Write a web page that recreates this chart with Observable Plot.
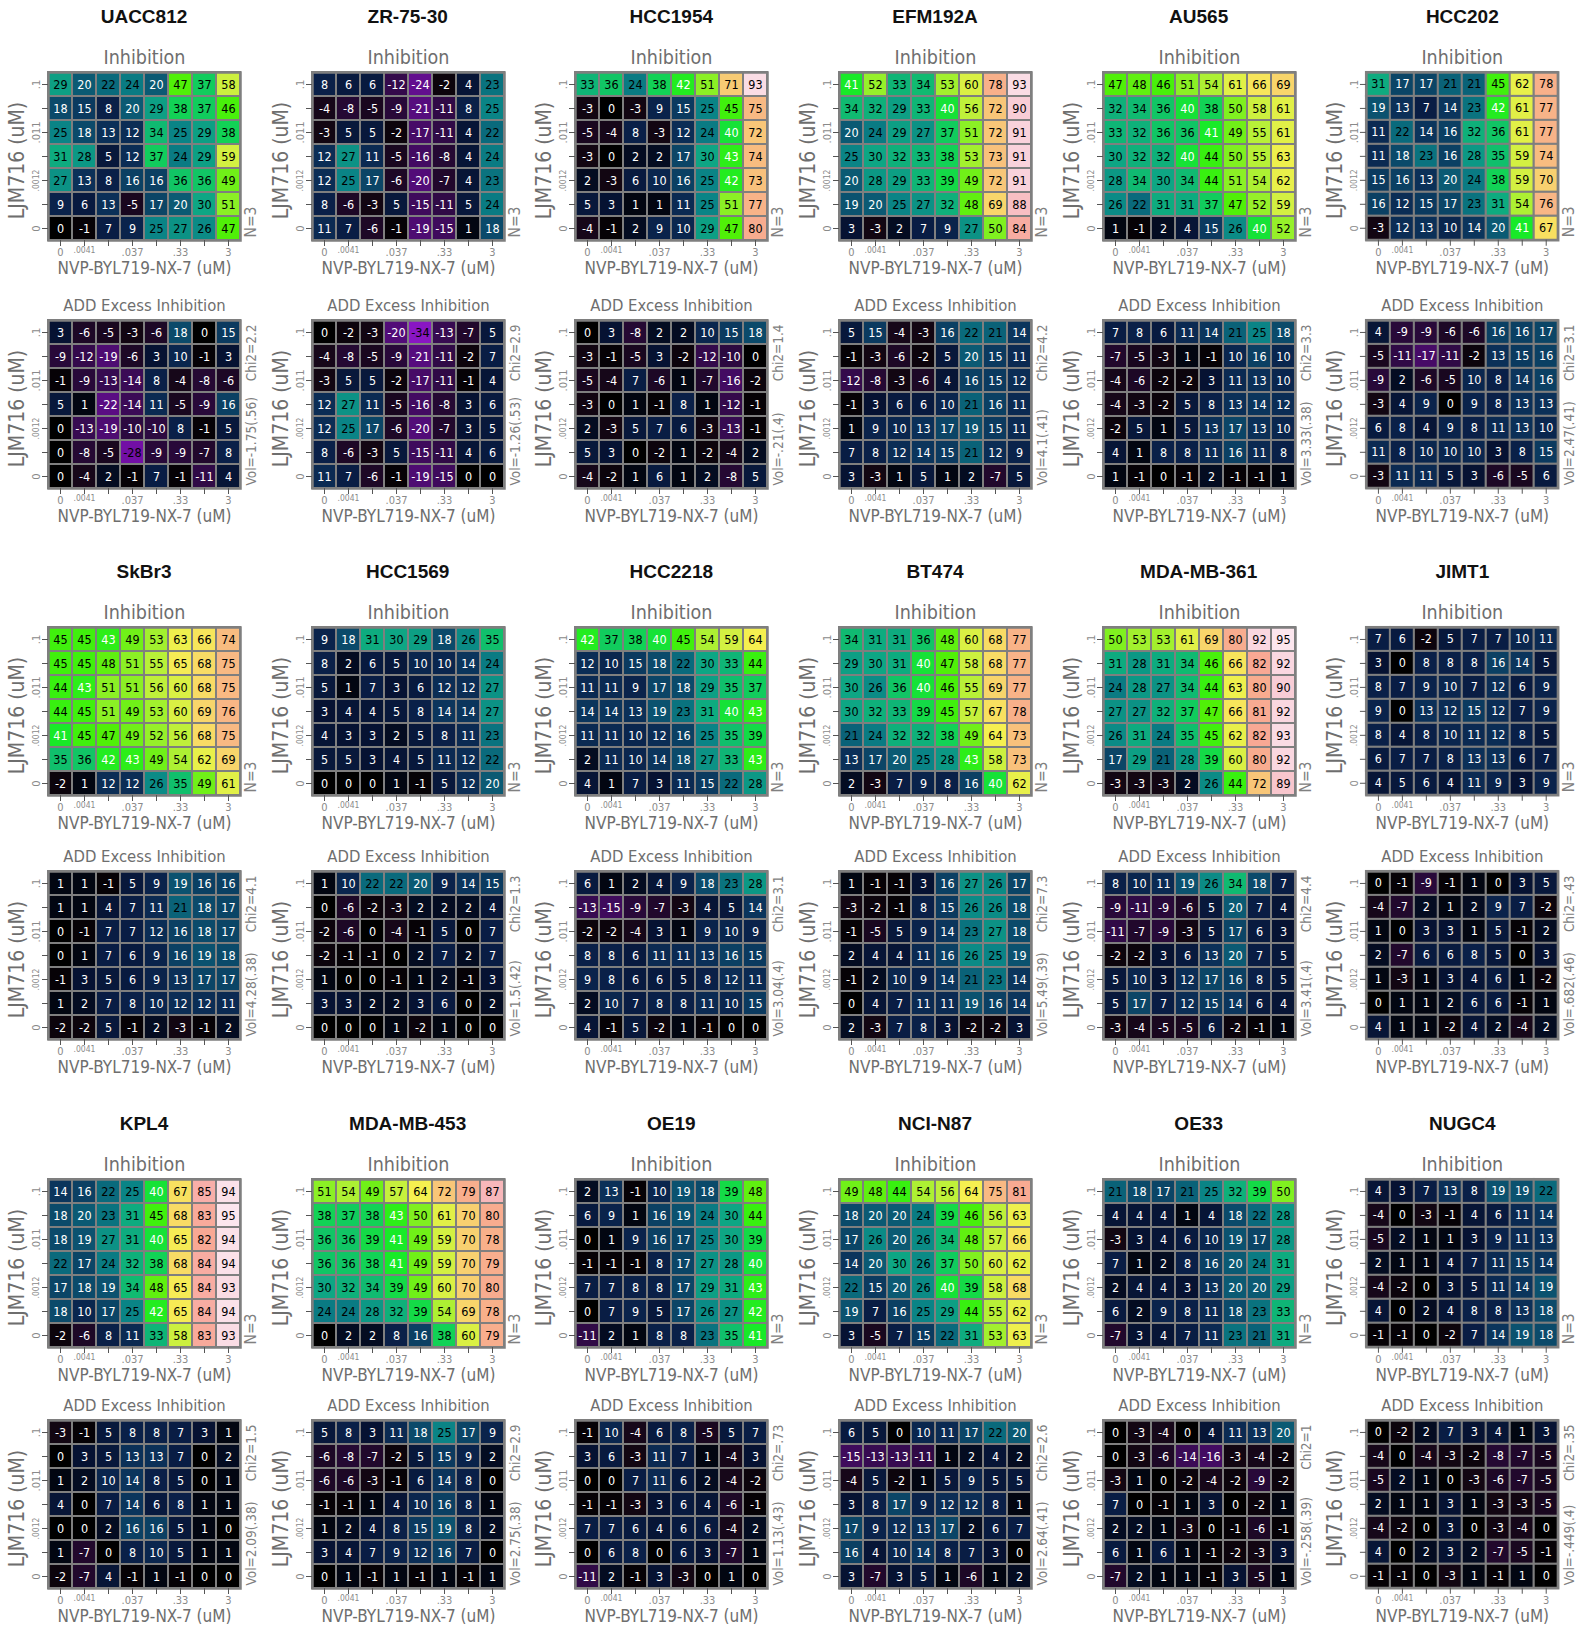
<!DOCTYPE html>
<html><head><meta charset="utf-8">
<script src="https://cdn.jsdelivr.net/npm/d3@7"></script>
<script src="https://cdn.jsdelivr.net/npm/@observablehq/plot@0.6"></script>
<style>
body{margin:0;background:#fff;}
#chart{position:relative;width:1582px;height:1627px;overflow:hidden;}
.name{position:absolute;font:bold 19px "Liberation Sans",Arial,sans-serif;color:#111;text-align:center;width:240px;height:24px;line-height:24px;}
.hm{position:absolute;}
.hm svg{overflow:visible;}
</style></head><body><div id="chart"></div><script>
// ---------- axes / categories ----------
const NVP = ["0",".0041",".012",".037",".11",".33","1","3"];          // columns, left -> right
const LJM = [".1",".033",".011",".0037",".0012",".00041","0"];        // rows, top -> bottom
const xTickLabels = ["0",".0041","",".037","",".33","","3"];
const yTickLabels = [".1","",".011","",".0012","","0"];
const cellLines = ["UACC812","ZR-75-30","HCC1954","EFM192A","AU565","HCC202",
  "SkBr3","HCC1569","HCC2218","BT474","MDA-MB-361","JIMT1",
  "KPL4","MDA-MB-453","OE19","NCI-N87","OE33","NUGC4"];
const nLabels = ["N=3","N=3","N=3","N=3","N=3","N=3","N=3","N=3","N=3","N=3","N=3","N=3","N=3","N=3","N=3","N=3","N=3","N=3"];
const chi2 = ["2.2","2.9","1.4","4.2","3.3","3.1","4.1","1.3","3.1","7.3","4.4",".43","1.5","2.9",".73","2.6","1",".35"];
const vol = ["-1.75(.56)","-1.26(.53)","-.21(.4)","4.1(.41)","3.33(.38)","2.47(.41)","4.28(.38)","1.5(.42)","3.04(.4)","5.49(.39)","3.41(.4)",".682(.46)","2.09(.38)","2.75(.38)","1.13(.43)","2.64(.41)","-.258(.39)","-.449(.4)"];

// ---------- values (rows top -> bottom, columns left -> right) ----------
const UACC812_inh = [[29,20,22,24,20,47,37,58],[18,15,8,20,29,38,37,46],[25,18,13,12,34,25,29,38],[31,28,5,12,37,24,29,59],[27,13,8,16,16,36,36,49],[9,6,13,-5,17,20,30,51],[0,-1,7,9,25,27,26,47]];
const UACC812_add = [[3,-6,-5,-3,-6,18,0,15],[-9,-12,-19,-6,3,10,-1,3],[-1,-9,-13,-14,8,-4,-8,-6],[5,1,-22,-14,11,-5,-9,16],[0,-13,-19,-10,-10,8,-1,5],[0,-8,-5,-28,-9,-9,-7,8],[0,-4,2,-1,7,-1,-11,4]];
const ZR7530_inh = [[8,6,6,-12,-24,-2,4,23],[-4,-8,-5,-9,-21,-11,8,25],[-3,5,5,-2,-17,-11,4,22],[12,27,11,-5,-16,-8,4,24],[12,25,17,-6,-20,-7,4,23],[8,-6,-3,5,-15,-11,5,24],[11,7,-6,-1,-19,-15,1,18]];
const ZR7530_add = [[0,-2,-3,-20,-34,-13,-7,5],[-4,-8,-5,-9,-21,-11,-2,7],[-3,5,5,-2,-17,-11,-1,4],[12,27,11,-5,-16,-8,3,6],[12,25,17,-6,-20,-7,3,5],[8,-6,-3,5,-15,-11,4,6],[11,7,-6,-1,-19,-15,0,0]];
const HCC1954_inh = [[33,36,24,38,42,51,71,93],[-3,0,-3,9,15,25,45,75],[-5,-4,8,-3,12,24,40,72],[-3,0,2,2,17,30,43,74],[2,-3,6,10,16,25,42,73],[5,3,1,1,11,25,51,77],[-4,-1,2,9,10,29,47,80]];
const HCC1954_add = [[0,3,-8,2,2,10,15,18],[-3,-1,-5,3,-2,-12,-10,0],[-5,-4,7,-6,1,-7,-16,-2],[-3,0,1,-1,8,1,-12,-1],[2,-3,5,7,6,-3,-13,-1],[5,3,0,-2,1,-2,-4,2],[-4,-2,1,6,1,2,-8,5]];
const EFM192A_inh = [[41,52,33,34,53,60,78,93],[34,32,29,33,40,56,72,90],[20,24,29,27,37,51,72,91],[25,30,32,33,38,53,73,91],[20,28,29,33,39,49,72,91],[19,20,25,27,32,48,69,88],[3,-3,2,7,9,27,50,84]];
const EFM192A_add = [[5,15,-4,-3,16,22,21,14],[-1,-3,-6,-2,5,20,15,11],[-12,-8,-3,-6,4,16,15,12],[-1,3,6,6,10,21,16,11],[1,9,10,13,17,19,15,11],[7,8,12,14,15,21,12,9],[3,-3,1,5,1,2,-7,5]];
const AU565_inh = [[47,48,46,51,54,61,66,69],[32,34,36,40,38,50,58,61],[33,32,36,36,41,49,55,61],[30,32,32,40,44,50,55,63],[28,34,30,34,44,51,54,62],[26,22,31,31,37,47,52,59],[1,-1,2,4,15,26,40,52]];
const AU565_add = [[7,8,6,11,14,21,25,18],[-7,-5,-3,1,-1,10,16,10],[-4,-6,-2,-2,3,11,13,10],[-4,-3,-2,5,8,13,14,12],[-2,5,1,5,13,17,13,10],[4,1,8,8,11,16,11,8],[1,-1,0,-1,2,-1,-1,1]];
const HCC202_inh = [[31,17,17,21,21,45,62,78],[19,13,7,14,23,42,61,77],[11,22,14,16,32,36,61,77],[11,18,23,16,28,35,59,74],[15,16,13,20,24,38,59,70],[16,12,15,17,23,31,54,76],[-3,12,13,10,14,20,41,67]];
const HCC202_add = [[4,-9,-9,-6,-6,16,16,17],[-5,-11,-17,-11,-2,13,15,16],[-9,2,-6,-5,10,8,14,16],[-3,4,9,0,9,8,13,13],[6,8,4,9,8,11,13,10],[11,8,10,10,10,3,8,15],[-3,11,11,5,3,-6,-5,6]];
const SkBr3_inh = [[45,45,43,49,53,63,66,74],[45,45,48,51,55,65,68,75],[44,43,51,51,56,60,68,75],[44,45,51,49,53,60,69,76],[41,45,47,49,52,56,68,75],[35,36,42,43,49,54,62,69],[-2,1,12,12,26,35,49,61]];
const SkBr3_add = [[1,1,-1,5,9,19,16,16],[1,1,4,7,11,21,18,17],[0,-1,7,7,12,16,18,17],[0,1,7,6,9,16,19,18],[-1,3,5,6,9,13,17,17],[1,2,7,8,10,12,12,11],[-2,-2,5,-1,2,-3,-1,2]];
const HCC1569_inh = [[9,18,31,30,29,18,26,35],[8,2,6,5,10,10,14,24],[5,1,7,3,6,12,12,27],[3,4,4,5,8,14,14,27],[4,3,3,2,5,8,11,23],[5,5,3,4,5,11,12,22],[0,0,0,1,-1,5,12,20]];
const HCC1569_add = [[1,10,22,22,20,9,14,15],[0,-6,-2,-3,2,2,2,4],[-2,-6,0,-4,-1,5,0,7],[-2,-1,-1,0,2,7,2,7],[1,0,0,-1,1,2,-1,3],[3,3,2,2,3,6,0,2],[0,0,0,1,-2,1,0,0]];
const HCC2218_inh = [[42,37,38,40,45,54,59,64],[12,10,15,18,22,30,33,44],[11,11,9,17,18,29,35,37],[14,14,13,19,23,31,40,43],[11,11,10,12,16,25,35,39],[2,11,10,14,18,27,33,43],[4,1,7,3,11,15,22,28]];
const HCC2218_add = [[6,1,2,4,9,18,23,28],[-13,-15,-9,-7,-3,4,5,14],[-2,-2,-4,3,1,9,10,9],[8,8,6,11,11,13,16,15],[9,8,6,6,5,8,12,11],[2,10,7,8,8,11,10,15],[4,-1,5,-2,1,-1,0,0]];
const BT474_inh = [[34,31,31,36,48,60,68,77],[29,30,31,40,47,58,68,77],[30,26,36,40,46,55,69,77],[30,32,33,39,45,57,67,78],[21,24,32,32,38,49,64,73],[13,17,20,25,28,43,58,73],[2,-3,7,9,8,16,40,62]];
const BT474_add = [[1,-1,-1,3,16,27,26,17],[-3,-2,-1,8,15,26,26,18],[-1,-5,5,9,14,23,27,18],[2,4,4,11,16,26,25,19],[-1,2,10,9,14,21,23,14],[0,4,7,11,11,19,16,14],[2,-3,7,8,3,-2,-2,3]];
const MDAMB361_inh = [[50,53,53,61,69,80,92,95],[31,28,31,34,46,66,82,92],[24,28,27,34,44,63,80,90],[27,27,32,37,47,66,81,92],[26,31,24,35,45,62,82,93],[17,29,21,28,39,60,80,92],[-3,-3,-3,2,26,44,72,89]];
const MDAMB361_add = [[8,10,11,19,26,34,18,7],[-9,-11,-9,-6,5,20,7,4],[-11,-7,-9,-3,5,17,6,3],[-2,-2,3,6,13,20,7,5],[5,10,3,12,17,16,8,5],[5,17,7,12,15,14,6,4],[-3,-4,-5,-5,6,-2,-1,1]];
const JIMT1_inh = [[7,6,-2,5,7,7,10,11],[3,0,8,8,8,16,14,5],[8,7,9,10,7,12,6,9],[9,0,13,12,15,12,7,9],[8,4,8,10,11,12,8,5],[6,7,7,8,13,13,6,7],[4,5,6,4,11,9,3,9]];
const JIMT1_add = [[0,-1,-9,-1,1,0,3,5],[-4,-7,2,1,2,9,7,-2],[1,0,3,3,1,5,-1,2],[2,-7,6,6,8,5,0,3],[1,-3,1,3,4,6,1,-2],[0,1,1,2,6,6,-1,1],[4,1,1,-2,4,2,-4,2]];
const KPL4_inh = [[14,16,22,25,40,67,85,94],[18,20,23,31,45,68,83,95],[18,19,27,31,40,65,82,94],[22,17,24,32,38,68,84,94],[17,18,19,34,48,65,84,93],[18,10,17,25,42,65,84,94],[-2,-6,8,11,33,58,83,93]];
const KPL4_add = [[-3,-1,5,8,8,7,3,1],[0,3,5,13,13,7,0,2],[1,2,10,14,8,5,0,1],[4,0,7,14,6,8,1,1],[0,0,2,16,16,5,1,0],[1,-7,0,8,10,5,1,1],[-2,-7,4,-1,1,-1,0,0]];
const MDAMB453_inh = [[51,54,49,57,64,72,79,87],[38,37,38,43,50,61,70,80],[36,36,39,41,49,59,70,78],[36,36,38,41,49,59,70,79],[30,32,34,39,49,60,70,80],[24,24,28,32,39,54,69,78],[0,2,2,8,16,38,60,79]];
const MDAMB453_add = [[5,8,3,11,18,25,17,9],[-6,-8,-7,-2,5,15,9,2],[-6,-6,-3,-1,6,14,8,0],[-1,-1,1,4,10,16,8,1],[1,2,4,8,15,19,8,2],[3,4,7,9,12,16,7,0],[0,1,-1,1,-1,1,-1,1]];
const OE19_inh = [[2,13,-1,10,19,18,39,48],[6,9,1,16,19,24,30,44],[0,1,9,16,17,25,30,39],[-1,-1,-1,8,17,27,28,40],[7,7,8,8,17,29,31,43],[0,7,9,5,17,26,27,42],[-11,2,1,8,8,23,35,41]];
const OE19_add = [[-1,10,-4,6,8,-5,5,7],[3,6,-3,11,7,1,-4,3],[0,0,7,11,6,2,-4,-2],[-1,-1,-3,3,6,4,-6,-1],[7,7,6,4,6,6,-4,2],[0,6,8,0,6,3,-7,1],[-11,2,-1,3,-3,0,1,0]];
const NCIN87_inh = [[49,48,44,54,56,64,75,81],[18,20,20,24,39,46,56,63],[17,26,20,26,34,48,57,66],[14,20,30,26,37,50,60,62],[22,15,20,26,40,39,58,68],[19,7,16,25,29,44,55,62],[3,-5,7,15,22,31,53,63]];
const NCIN87_add = [[6,5,0,10,11,17,22,20],[-15,-13,-13,-11,1,2,4,2],[-4,5,-2,1,5,9,5,5],[3,8,17,9,12,12,8,1],[17,9,12,13,17,2,6,7],[16,4,10,14,8,7,3,0],[3,-7,3,5,1,-6,1,2]];
const OE33_inh = [[21,18,17,21,25,32,39,50],[4,4,4,1,4,18,22,28],[-3,3,4,6,10,19,17,28],[7,1,2,8,16,20,24,31],[2,4,4,3,13,20,20,29],[6,2,9,8,11,18,23,33],[-7,3,4,7,11,23,21,31]];
const OE33_add = [[0,-3,-4,0,4,11,13,20],[0,-3,-6,-14,-16,-3,-4,-2],[-3,1,0,-2,-4,-2,-9,-2],[7,0,-1,1,3,0,-2,1],[2,2,1,-3,0,-1,-6,-1],[6,1,6,1,-1,-2,-3,3],[-7,2,1,1,-1,3,-5,1]];
const NUGC4_inh = [[4,3,7,13,8,19,19,22],[-4,0,-3,-1,4,6,11,14],[-5,2,1,1,3,9,11,13],[2,1,1,4,7,11,15,14],[-4,-2,0,3,5,11,14,19],[4,0,2,4,8,8,13,18],[-1,-1,0,-2,7,14,19,18]];
const NUGC4_add = [[0,-2,2,7,3,4,1,3],[-4,0,-4,-3,-2,-8,-7,-5],[-5,2,1,0,-3,-6,-7,-5],[2,1,1,3,1,-3,-3,-5],[-4,-2,0,3,0,-3,-4,0],[4,0,2,3,2,-7,-5,-1],[-1,-1,0,-3,1,-1,1,0]];

const inhibition = [UACC812_inh,ZR7530_inh,HCC1954_inh,EFM192A_inh,AU565_inh,HCC202_inh,SkBr3_inh,HCC1569_inh,HCC2218_inh,BT474_inh,MDAMB361_inh,JIMT1_inh,KPL4_inh,MDAMB453_inh,OE19_inh,NCIN87_inh,OE33_inh,NUGC4_inh];
const excess = [UACC812_add,ZR7530_add,HCC1954_add,EFM192A_add,AU565_add,HCC202_add,SkBr3_add,HCC1569_add,HCC2218_add,BT474_add,MDAMB361_add,JIMT1_add,KPL4_add,MDAMB453_add,OE19_add,NCIN87_add,OE33_add,NUGC4_add];

// ---------- styling ----------
const colorStops = [-40,-30,-20,-10,-3,0,3,8,13,18,22,25,30,35,38,41,44,47,50,55,60,64,67,70,74,78,82,86,90,95,100];
const colorRange = ["#a020e0","#7a10b0","#520c78","#2c0a40","#120612","#000000","#061232","#0a2048","#0b3058","#0b4a6a","#0a6a7c","#0a8486","#0ea684","#10bf6c","#12d256","#18ea28","#38f010","#50f008","#80f020","#b8f038","#daf044","#f5f050","#f8e060","#f8d070","#f8bc80","#f8b08a","#f8a894","#f8b0b0","#f8cdd6","#fce6ee","#ffffff"];
const FONT = '"DejaVu Sans Condensed","DejaVu Sans",sans-serif';
const GRID = "#7f7f7f";
const W = 1582/6;
const inhTop = [71.7, 627, 1179];
const addTop = [320.3, 871.3, 1420.3];
const CELL = 24, MT = 30, ML = 48, MR = 24, MB = 46;

function whiteText(v){ return (v > -25 && v <= 20) || (v >= 40 && v <= 43); }

function heatmap(values, title, titleSize, rightMarks){
  const data = [];
  values.forEach((row, r) => row.forEach((v, c) => data.push({x: NVP[c], y: LJM[r], v})));
  const xt = NVP.map((c,i)=>({c, t:xTickLabels[i]})).filter(d=>d.t && d.t !== ".0041");
  const xs = NVP.map((c,i)=>({c, t:xTickLabels[i]})).filter(d=>d.t === ".0041");
  const yt = LJM.map((c,i)=>({c, t:yTickLabels[i]})).filter(d=>d.t && d.t !== ".0012");
  const ys = LJM.map((c,i)=>({c, t:yTickLabels[i]})).filter(d=>d.t === ".0012");
  return Plot.plot({
    width: ML + 8*CELL + MR, height: MT + 7*CELL + MB,
    marginLeft: ML, marginRight: MR, marginTop: MT, marginBottom: MB,
    style: {fontFamily: FONT, background: "transparent", overflow: "visible"},
    x: {type: "band", domain: NVP, padding: 0},
    y: {type: "band", domain: LJM, padding: 0},
    color: {type: "linear", domain: colorStops, range: colorRange, clamp: true},
    marks: [
      Plot.cell(data, {x: "x", y: "y", fill: "v", stroke: GRID, strokeWidth: 2}),
      Plot.text(data.filter(d => whiteText(d.v)), {x: "x", y: "y", text: d => String(d.v), fill: "white", fontSize: 12.5}),
      Plot.text(data.filter(d => !whiteText(d.v)), {x: "x", y: "y", text: d => String(d.v), fill: "black", fontSize: 12.5}),
      Plot.frame({stroke: GRID, strokeWidth: 2.5}),
      Plot.axisX({tickSize: 6, tickFormat: () => "", label: null, stroke: "#555"}),
      Plot.axisY({tickSize: 6, tickFormat: () => "", label: null, stroke: "#555"}),
      Plot.text(xt, {x: "c", text: "t", frameAnchor: "bottom", lineAnchor: "middle", dy: 12, fontSize: 11, fill: "#8a8a8a"}),
      Plot.text(xs, {x: "c", text: "t", frameAnchor: "bottom", lineAnchor: "middle", dy: 10, fontSize: 8.5, fill: "#8a8a8a"}),
      Plot.text(yt, {y: "c", text: "t", frameAnchor: "left", textAnchor: "middle", lineAnchor: "middle", dx: -12, rotate: -90, fontSize: 11, fill: "#8a8a8a"}),
      Plot.text(ys, {y: "c", text: "t", frameAnchor: "left", textAnchor: "middle", lineAnchor: "middle", dx: -12, rotate: -90, fontSize: 8.5, fill: "#8a8a8a"}),
      Plot.text(["NVP-BYL719-NX-7 (uM)"], {frameAnchor: "bottom", lineAnchor: "middle", dy: 28, fontSize: 17, fill: "#6e6e6e"}),
      Plot.text(["LJM716 (uM)"], {frameAnchor: "left", textAnchor: "middle", lineAnchor: "middle", dx: -31, dy: 4, rotate: -90, fontSize: 21, fill: "#6e6e6e"}),
      Plot.text([title], {frameAnchor: "top", lineAnchor: "middle", dy: -15, fontSize: titleSize, fill: "#6e6e6e"}),
      ...rightMarks
    ]
  });
}

const chart = document.getElementById("chart");
cellLines.forEach((name, i) => {
  const col = i % 6, g = Math.floor(i / 6);
  const left = col * W;
  const nm = document.createElement("div");
  nm.className = "name"; nm.textContent = name;
  nm.style.left = (left + ML + 4*CELL - 120) + "px";
  nm.style.top = (inhTop[g] - 55 - 12) + "px";
  chart.appendChild(nm);

  const inhRight = [Plot.text([nLabels[i]], {frameAnchor: "bottom-right", lineAnchor: "middle", dx: 11, dy: -3, rotate: -90, textAnchor: "start", fontSize: 15.5, fill: "#808080"})];
  const p1 = heatmap(inhibition[i], "Inhibition", 19.5, inhRight);
  const d1 = document.createElement("div"); d1.className = "hm";
  d1.style.left = left + "px"; d1.style.top = (inhTop[g] - MT) + "px";
  d1.appendChild(p1); chart.appendChild(d1);

  const addRight = [
    Plot.text(["Chi2=" + chi2[i]], {frameAnchor: "top-right", lineAnchor: "middle", dx: 11, dy: 4, rotate: -90, textAnchor: "end", fontSize: 13.5, fill: "#808080"}),
    Plot.text(["Vol=" + vol[i]], {frameAnchor: "bottom-right", lineAnchor: "middle", dx: 11, dy: -3, rotate: -90, textAnchor: "start", fontSize: 13.5, fill: "#808080"})
  ];
  const p2 = heatmap(excess[i], "ADD Excess Inhibition", 16.5, addRight);
  const d2 = document.createElement("div"); d2.className = "hm";
  d2.style.left = left + "px"; d2.style.top = (addTop[g] - MT) + "px";
  d2.appendChild(p2); chart.appendChild(d2);
});
</script></body></html>
